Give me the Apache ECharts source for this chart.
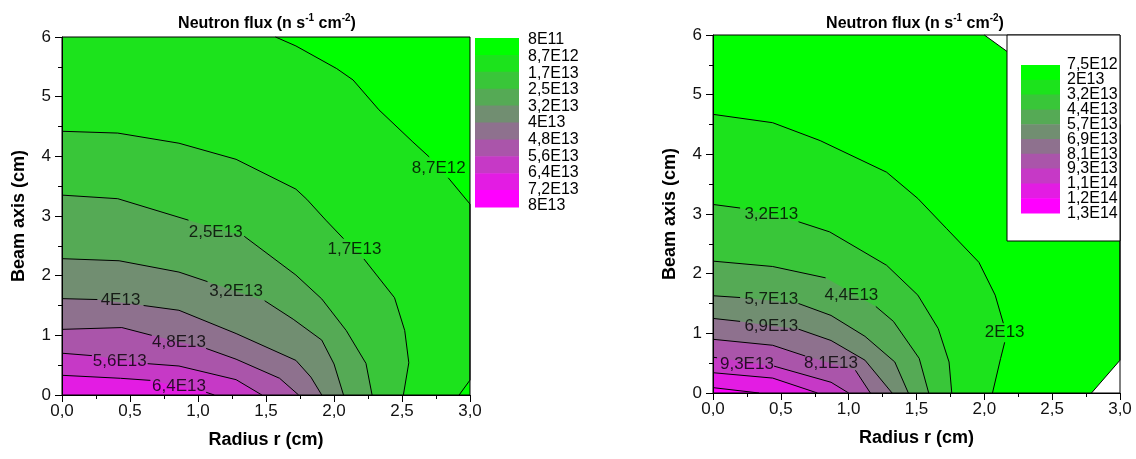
<!DOCTYPE html>
<html>
<head>
<meta charset="utf-8">
<script src="https://cdn.jsdelivr.net/npm/echarts@6.0.0/dist/echarts.min.js"></script>
<style>
  html, body { margin: 0; padding: 0; background: #fff; }
  #main { width: 1136px; height: 459px; }
</style>
</head>
<body>
<div id="main"></div>
<script>
// colour bands, lowest level first (green -> magenta)
var bandColors = ['#00ff00', '#1ce31c', '#39c639', '#55aa55', '#718e71',
                  '#8e718e', '#aa55aa', '#c639c6', '#e31ce3', '#ff00ff'];

// legend level labels
var leftLevels = ['8E11', '8,7E12', '1,7E13', '2,5E13', '3,2E13', '4E13',
                  '4,8E13', '5,6E13', '6,4E13', '7,2E13', '8E13'];
var rightLevels = ['7,5E12', '2E13', '3,2E13', '4,4E13', '5,7E13', '6,9E13',
                   '8,1E13', '9,3E13', '1,1E14', '1,2E14', '1,3E14'];

// contour lines [r, z], one per level (null = gap for label)
// index = level index; left level 0 (8E11) covers the whole plot
var leftLines = [
  null,
  [[1.57, 6], [1.72, 5.85], [2.02, 5.47], [2.14, 5.28], [2.33, 4.78], [2.58, 4.24], [2.70, 3.99], null,
   [2.84, 3.64], [3.0, 3.2], [3.0, 0.25], [2.92, 0]],
  [[0, 4.42], [0.41, 4.39], [0.86, 4.22], [1.28, 3.95], [1.72, 3.45], [1.80, 3.28], [1.94, 2.93], [2.07, 2.62], null,
   [2.22, 2.28], [2.445, 1.63], [2.52, 1.08], [2.55, 0.54], [2.51, 0]],
  [[0, 3.35], [0.41, 3.29], [0.93, 2.93], null,
   [1.34, 2.66], [1.72, 2.01], [1.91, 1.61], [2.09, 1.08], [2.235, 0.53], [2.28, 0]],
  [[0, 2.285], [0.42, 2.25], [0.86, 2.06], [1.07, 1.90], null,
   [1.49, 1.58], [1.70, 1.27], [1.91, 0.92], [2.0, 0.52], [2.07, 0]],
  [[0, 1.615], [0.26, 1.6], null,
   [0.6, 1.5], [0.86, 1.42], [1.28, 1.03], [1.72, 0.58], [1.83, 0.30], [1.91, 0]],
  [[0, 1.10], [0.44, 1.13], [0.66, 1.0], null,
   [1.06, 0.78], [1.28, 0.60], [1.60, 0.28], [1.74, 0]],
  [[0, 0.70], [0.22, 0.66], null,
   [0.63, 0.525], [0.86, 0.486], [1.28, 0.257], [1.47, 0]],
  [[0, 0.33], [0.43, 0.28], [0.65, 0.245], null,
   [1.06, 0.045], [1.12, 0]]
];

var rightLines = [
  [[2.0, 6], [2.17, 5.72], [3.0, 4.5], [3.0, 0.55], [2.79, 0]],
  [[0, 4.67], [0.44, 4.53], [0.79, 4.23], [1.28, 3.70], [1.51, 3.26], [1.72, 2.76], [1.96, 2.19], [2.08, 1.64],
   [2.14, 1.17], null, [2.15, 0.85], [2.12, 0.58], [2.06, 0]],
  [[0, 3.16], [0.2, 3.1], null,
   [0.63, 2.87], [0.86, 2.70], [1.28, 2.14], [1.51, 1.64], [1.66, 1.08], [1.74, 0.52], [1.76, 0]],
  [[0, 2.21], [0.44, 2.12], [0.83, 1.93], null,
   [1.2, 1.45], [1.33, 1.2], [1.52, 0.58], [1.59, 0]],
  [[0, 1.63], [0.2, 1.60], null,
   [0.63, 1.50], [0.87, 1.30], [1.12, 0.95], [1.34, 0.52], [1.44, 0]],
  [[0, 1.25], [0.2, 1.2], null,
   [0.63, 1.07], [0.87, 0.88], [1.12, 0.55], [1.32, 0]],
  [[0, 0.90], [0.44, 0.80], [0.68, 0.62], null,
   [1.05, 0.38], [1.16, 0]],
  [[0, 0.60], [0.03, 0.59], null,
   [0.45, 0.45], [0.87, 0.18], [1.0, 0]],
  [[0, 0.34], [0.44, 0.25], [0.77, 0]],
  [[0, 0.09], [0.34, 0]]
];

// contour label positions and texts
var leftLabelPos = [[2.77, 3.80], [2.15, 2.44], [1.13, 2.72], [1.28, 1.73], [0.43, 1.59], [0.86, 0.89], [0.425, 0.57], [0.86, 0.15]];
var leftLabelText = ['8,7E12', '1,7E13', '2,5E13', '3,2E13', '4E13', '4,8E13', '5,6E13', '6,4E13'];
var rightLabelPos = [[0.43, 3.0], [1.02, 1.63], [0.43, 1.565], [0.43, 1.11], [2.15, 1.01], [0.25, 0.48], [0.87, 0.50]];
var rightLabelText = ['3,2E13', '4,4E13', '5,7E13', '6,9E13', '2E13', '9,3E13', '8,1E13'];

var FONT = 'Liberation Sans, Arial, sans-serif';
var chart = echarts.init(document.getElementById('main'));

function fillRender(lines) {
  return function (params, api) {
    var line = lines[params.dataIndex];
    var pts;
    if (!line) {
      pts = [[0, 0], [3, 0], [3, 6], [0, 6]];
    } else {
      pts = line.filter(function (p) { return p; });
      var first = pts[0];
      pts = pts.concat([[0, 0]]);
      if (first[0] > 0 && first[1] >= 6) pts.push([0, 6]);
    }
    return {
      type: 'polygon',
      z2: params.dataIndex,
      shape: { points: pts.map(function (p) { return api.coord(p); }) },
      style: { fill: bandColors[params.dataIndex], stroke: null }
    };
  };
}

function lineRender(lines) {
  return function (params, api) {
    var line = lines[params.dataIndex];
    var children = [];
    var seg = [];
    if (line) {
      line.concat([null]).forEach(function (p) {
        if (p) {
          seg.push(api.coord(p));
        } else {
          if (seg.length > 1) {
            children.push({ type: 'polyline', shape: { points: seg },
              style: { stroke: '#000', lineWidth: 1, fill: null } });
          }
          seg = [];
        }
      });
    }
    return { type: 'group', children: children };
  };
}

function bottomAxis(gi) {
  return {
    gridIndex: gi, type: 'value', min: 0, max: 3, interval: 0.5, position: 'bottom', z: 5,
    axisLine: { show: true, onZero: false, lineStyle: { color: '#000', width: 1 } },
    axisTick: { show: true, inside: false, length: 7, lineStyle: { color: '#000' } },
    minorTick: { show: true, splitNumber: 2, length: 4, lineStyle: { color: '#000' } },
    splitLine: { show: false },
    axisLabel: { fontSize: 17, color: '#111', margin: 8, fontFamily: FONT,
      formatter: function (v) { return v.toFixed(1).replace('.', ','); } },
    name: 'Radius r (cm)', nameLocation: 'middle', nameGap: 36,
    nameTextStyle: { fontSize: 18, fontWeight: 'bold', color: '#000', fontFamily: FONT }
  };
}
function leftAxis(gi) {
  return {
    gridIndex: gi, type: 'value', min: 0, max: 6, interval: 1, position: 'left', z: 5,
    axisLine: { show: true, onZero: false, lineStyle: { color: '#000', width: 1 } },
    axisTick: { show: true, inside: false, length: 7, lineStyle: { color: '#000' } },
    minorTick: { show: true, splitNumber: 2, length: 4, lineStyle: { color: '#000' } },
    splitLine: { show: false },
    axisLabel: { fontSize: 17, color: '#111', margin: 11, fontFamily: FONT },
    name: 'Beam axis (cm)', nameLocation: 'middle', nameGap: 34,
    nameTextStyle: { fontSize: 18, fontWeight: 'bold', color: '#000', fontFamily: FONT }
  };
}

function labelSeries(xi, pos, text) {
  return {
    type: 'scatter', xAxisIndex: xi, yAxisIndex: xi, symbolSize: 1, z: 4, silent: true,
    itemStyle: { color: 'transparent' },
    label: { show: true, position: 'inside', formatter: '{b}', fontSize: 17, color: '#000', fontFamily: FONT },
    data: pos.map(function (p, i) { return { name: text[i], value: p }; })
  };
}

var titleRich = {
  a: { fontSize: 16, fontWeight: 'bold', color: '#000', fontFamily: FONT, lineHeight: 22 },
  s: { fontSize: 10, fontWeight: 'bold', color: '#000', fontFamily: FONT, lineHeight: 22, verticalAlign: 'top', padding: [0, 0, 10, 0] }
};
var titleText = '{a|Neutron flux (n s}{s|-1}{a| cm}{s|-2}{a|)}';

var grids = [
  { left: 62, top: 37, width: 408, height: 358 },
  { left: 713, top: 35, width: 407, height: 358 }
];

var graphics = [];
// plot frames, placed on the grid edges
grids.forEach(function (g) {
  graphics.push({ type: 'rect', z: 50, silent: true,
    shape: { x: g.left, y: g.top, width: g.width, height: g.height },
    style: { fill: null, stroke: '#000', lineWidth: 1 } });
});
// legends drawn from the level arrays
bandColors.forEach(function (c, i) {
  graphics.push({ type: 'rect', z: 100,
    shape: { x: 475, y: 38 + i * 16.9, width: 44, height: 17.4 }, style: { fill: c } });
});
leftLevels.forEach(function (t, i) {
  graphics.push({ type: 'text', x: 528, y: 40 + i * 16.6, z: 100,
    style: { text: t, fill: '#000', font: '16px ' + FONT, textVerticalAlign: 'middle', verticalAlign: 'middle' } });
});
graphics.push({ type: 'rect', z: 99,
  shape: { x: 1007, y: 35, width: 113, height: 206 }, style: { fill: '#fff', stroke: '#000', lineWidth: 1 } });
bandColors.forEach(function (c, i) {
  graphics.push({ type: 'rect', z: 100,
    shape: { x: 1021, y: 65 + i * 14.8, width: 39, height: 15.3 }, style: { fill: c } });
});
rightLevels.forEach(function (t, i) {
  graphics.push({ type: 'text', x: 1067, y: 65 + i * 14.85, z: 100,
    style: { text: t, fill: '#000', font: '16px ' + FONT, textVerticalAlign: 'middle', verticalAlign: 'middle' } });
});

var option = {
  animation: false,
  title: [
    { text: titleText, left: 262, top: 8, textAlign: 'center', textStyle: { rich: titleRich } },
    { text: titleText, left: 910, top: 8, textAlign: 'center', textStyle: { rich: titleRich } }
  ],
  grid: grids,
  xAxis: [bottomAxis(0), bottomAxis(1)],
  yAxis: [leftAxis(0), leftAxis(1)],
  series: [
    { type: 'custom', xAxisIndex: 0, yAxisIndex: 0, silent: true, z: 2,
      data: leftLines.map(function () { return [0, 0]; }), renderItem: fillRender(leftLines) },
    { type: 'custom', xAxisIndex: 0, yAxisIndex: 0, silent: true, z: 3,
      data: leftLines.map(function () { return [0, 0]; }), renderItem: lineRender(leftLines) },
    labelSeries(0, leftLabelPos, leftLabelText),
    { type: 'custom', xAxisIndex: 1, yAxisIndex: 1, silent: true, z: 2,
      data: rightLines.map(function () { return [0, 0]; }), renderItem: fillRender(rightLines) },
    { type: 'custom', xAxisIndex: 1, yAxisIndex: 1, silent: true, z: 3,
      data: rightLines.map(function () { return [0, 0]; }), renderItem: lineRender(rightLines) },
    labelSeries(1, rightLabelPos, rightLabelText)
  ],
  graphic: graphics
};

chart.setOption(option);
</script>
</body>
</html>
